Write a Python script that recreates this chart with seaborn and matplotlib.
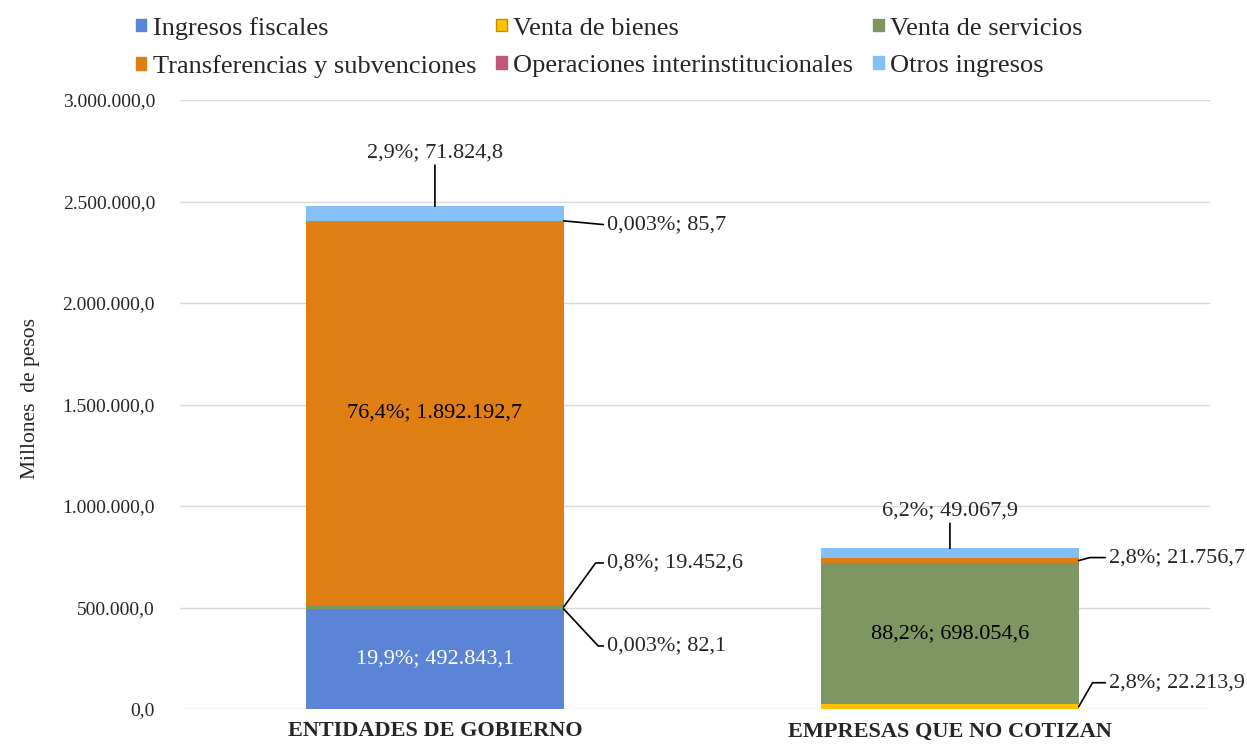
import numpy as np
import pandas as pd
import matplotlib
matplotlib.use("Agg")
import matplotlib.pyplot as plt
from matplotlib.patches import Patch
from matplotlib.ticker import FuncFormatter
import seaborn as sns

# Datos (millones de pesos)
categorias = ["ENTIDADES DE GOBIERNO", "EMPRESAS QUE NO COTIZAN"]
componentes = ["Ingresos fiscales", "Venta de bienes", "Venta de servicios",
               "Transferencias y subvenciones", "Operaciones interinstitucionales",
               "Otros ingresos"]
ingresos_fiscales = [492843.1, 0.0]
venta_bienes = [82.1, 22213.9]
venta_servicios = [19452.6, 698054.6]
transferencias = [1892192.7, 21756.7]
operaciones = [85.7, 0.0]
otros_ingresos = [71824.8, 49067.9]
y_ticks = [0, 500000, 1000000, 1500000, 2000000, 2500000, 3000000]

colores = ["#5B83D6", "#FFC000", "#7D9662", "#DF7E12", "#C0587E", "#85BFF7"]

series = [ingresos_fiscales, venta_bienes, venta_servicios,
          transferencias, operaciones, otros_ingresos]
filas = []
for comp, vals in zip(componentes, series):
    for cat, v in zip(categorias, vals):
        filas.append({"categoria": cat, "componente": comp, "valor": v})
df = pd.DataFrame(filas)
df["tope"] = df.groupby("categoria")["valor"].cumsum()
df["base"] = df["tope"] - df["valor"]
df["total"] = df.groupby("categoria")["valor"].transform("sum")


def es(v, dec=1):
    s = f"{v:,.{dec}f}"
    return s.replace(",", "X").replace(".", ",").replace("X", ".")


def etiqueta(v, total):
    pct = v / total * 100
    p = es(pct, 3) if pct < 0.1 else es(pct, 1)
    return f"{p}%; {es(v)}"


# Como se ubica cada etiqueta: (modo, dx px, dy px, angulo del conector)
ubicacion = {
    (0, "Ingresos fiscales"): ("dentro", "white"),
    (0, "Transferencias y subvenciones"): ("dentro", "black"),
    (1, "Venta de servicios"): ("dentro", "black"),
    (0, "Otros ingresos"): ("arriba", 0, 54),
    (1, "Otros ingresos"): ("arriba", 0, 38),
    (0, "Operaciones interinstitucionales"): ("lado", 43, -4, None),
    (0, "Venta de servicios"): ("lado", 43, 44, 54),
    (0, "Venta de bienes"): ("lado", 43, -37, -47),
    (1, "Transferencias y subvenciones"): ("lado", 30, 3, 15),
    (1, "Venta de bienes"): ("lado", 30, 24, 60),
}

sns.set_style("white")
plt.rcParams["font.family"] = ["Liberation Serif", "DejaVu Serif"]

fig = plt.figure(figsize=(12.47, 7.45), dpi=100)
ax = fig.add_axes([180 / 1247, 1 - 709 / 745, 1030 / 1247, 609 / 745])

# barras apiladas: se dibuja el acumulado de arriba hacia abajo
for comp, c in reversed(list(zip(componentes, colores))):
    sub = df[df["componente"] == comp]
    sns.barplot(data=sub, x="categoria", y="tope", order=categorias, color=c,
                saturation=1, width=0.5, linewidth=0, errorbar=None, ax=ax)

ax.set_xlim(-0.495, 1.505)
ax.set_ylim(0, 3000000)
ax.set_yticks(y_ticks)
ax.yaxis.set_major_formatter(FuncFormatter(lambda v, p: es(v)))
ax.grid(axis="y", color="#D9D9D9", linewidth=1)
ax.set_axisbelow(True)
for s in ax.spines.values():
    s.set_visible(False)
ax.tick_params(axis="y", length=0, pad=18, labelsize=14)
ax.tick_params(axis="x", length=0, pad=9, labelsize=16)
for t in ax.get_xticklabels():
    t.set_fontweight("bold")
ax.set_xlabel("")
ax.set_ylabel("Millones  de pesos", fontsize=15.5)
ax.yaxis.set_label_coords(-0.136, 0.51)

for (i, comp), u in ubicacion.items():
    fila = df[(df["categoria"] == categorias[i]) & (df["componente"] == comp)].iloc[0]
    txt = etiqueta(fila["valor"], fila["total"])
    medio = (fila["base"] + fila["tope"]) / 2
    if u[0] == "dentro":
        ax.text(i, medio, txt, ha="center", va="center", fontsize=16, color=u[1])
    elif u[0] == "arriba":
        ax.annotate(txt, xy=(i, fila["tope"]), xytext=(u[1], u[2]),
                    textcoords="offset pixels", ha="center", va="center", fontsize=16,
                    arrowprops=dict(arrowstyle="-", color="black", lw=1.2,
                                    relpos=(0.5, 0), shrinkA=0, shrinkB=0))
    else:
        cs = "arc3" if u[3] is None else f"angle,angleA=0,angleB={u[3]},rad=0"
        ax.annotate(txt, xy=(i + 0.25, medio), xytext=(u[1], u[2]),
                    textcoords="offset pixels", ha="left", va="center", fontsize=16,
                    arrowprops=dict(arrowstyle="-", color="black", lw=1.2,
                                    relpos=(0, 0.5), shrinkA=0, shrinkB=0,
                                    connectionstyle=cs))

handles = [Patch(facecolor=c, edgecolor=("#C09000" if c == "#FFC000" else c))
           for c in colores]
orden = [0, 3, 1, 4, 2, 5]
fig.legend([handles[k] for k in orden], [componentes[k] for k in orden],
           ncol=3, loc="upper left", bbox_to_anchor=(120 / 1247, 0.999),
           frameon=False, fontsize=19, handlelength=0.4, handleheight=0.36,
           handletextpad=0.25, columnspacing=0.75, labelspacing=0.58,
           borderaxespad=0.2)

fig.savefig("out.png", dpi=100)
